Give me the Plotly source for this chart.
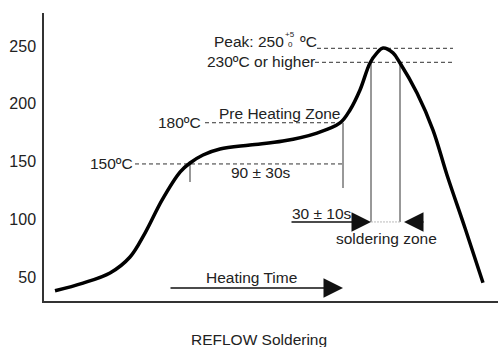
import plotly.graph_objects as go

# Reflow profile (time in arbitrary units, temperature in ºC)
time = [11, 39, 66, 86, 101, 118, 136, 146, 159, 176, 206, 239, 273, 296, 306, 316,
        326, 333, 339, 349, 356, 373, 389, 403, 421, 439]
temp = [38.6, 45.2, 53.9, 67.7, 88.4, 116.9, 141.1, 148.9, 155.8, 161.0, 164.5, 167.9,
        174.8, 183.5, 194.7, 212.0, 235.3, 244.0, 248.3, 244.0, 235.3, 209.4, 177.4,
        138.6, 92.8, 45.5]

tick_vals = [50, 100, 150, 200, 250]
tick_text = ["50", "100", "150", "200", "250"]

# guide levels (as drawn)
lvl_peak, lvl_230, lvl_180, lvl_150 = 248.0, 235.9, 183.7, 148.1
t_150, t_180, t_s1, t_s2 = 146, 299, 327, 356
lvl_zone = 98.0
lvl_heat = 40.9

FONT = "Liberation Sans, Arial, sans-serif"
FS = 15.5
TXT = "#222222"

fig = go.Figure()

dash_style = dict(color="#333333", width=1, dash="4px,3px")
for x0, x1, y in [(273, 409, lvl_peak), (271, 409, lvl_230), (161, t_180, lvl_180), (91, t_180, lvl_150)]:
    fig.add_trace(go.Scatter(x=[x0, x1], y=[y, y], mode="lines", line=dash_style,
                             hoverinfo="skip", showlegend=False))

solid = dict(color="#333333", width=1)
for x, y0, y1 in [(t_150, lvl_150, 132.5), (t_180, lvl_180, 127.3),
                  (t_s1, lvl_230, lvl_zone), (t_s2, lvl_230, lvl_zone)]:
    fig.add_trace(go.Scatter(x=[x, x], y=[y0, y1], mode="lines", line=solid,
                             hoverinfo="skip", showlegend=False))
fig.add_trace(go.Scatter(x=[t_s1, t_s2], y=[lvl_zone, lvl_zone], mode="lines",
                         line=dict(color="#bbbbbb", width=1, dash="2px,1px"),
                         hoverinfo="skip", showlegend=False))

fig.add_trace(go.Scatter(x=time, y=temp, mode="lines",
                         line=dict(color="black", width=3.5, shape="spline", smoothing=1.0),
                         hoverinfo="skip", showlegend=False))

def txt(x, y, s, xanchor="left", size=FS):
    fig.add_annotation(x=x, y=y, xref="x", yref="y", text=s, showarrow=False,
                       xanchor=xanchor, yanchor="middle",
                       font=dict(family=FONT, size=size, color=TXT))

def arrow(x_tail, x_head, y):
    fig.add_annotation(x=x_head, y=y, ax=x_tail, ay=y, xref="x", yref="y",
                       axref="x", ayref="y", text="", showarrow=True,
                       arrowhead=2, arrowsize=2.6, arrowwidth=1.5, arrowcolor="#111111",
                       standoff=0, startstandoff=0)

txt(168, 253.5, "Peak: 250")
txt(246, 259.5, "+5", xanchor="center", size=8)
txt(246, 251.7, "0", xanchor="center", size=8)
txt(254, 253.5, "ºC")
txt(161, 236.2, "230ºC or higher")
txt(159, 184.0, "180ºC", xanchor="right")
txt(173, 191.3, "Pre Heating Zone")
txt(91, 148.6, "150ºC", xanchor="right")
txt(217, 140.3, "90 ± 30s", xanchor="center")
txt(278, 105.7, "30 ± 10s", xanchor="center")
txt(342, 84.1, "soldering zone", xanchor="center")
txt(207, 49.6, "Heating Time", xanchor="center")

arrow(246, t_s1, lvl_zone)
arrow(381, 360, lvl_zone)
arrow(125, t_180, lvl_heat)

fig.add_annotation(x=0.4736, y=-0.135, xref="paper", yref="paper", text="REFLOW Soldering",
                   showarrow=False, xanchor="center", yanchor="middle",
                   font=dict(family=FONT, size=FS, color=TXT))

fig.update_layout(
    width=498, height=347,
    margin=dict(l=44, r=0, t=13, b=46),
    plot_bgcolor="white", paper_bgcolor="white",
    xaxis=dict(range=[0, 454], showgrid=False, zeroline=False, showticklabels=False,
               ticks="", showline=True, linecolor="#333333", linewidth=1.5, fixedrange=True),
    yaxis=dict(range=[29.7, 278.5], showgrid=False, zeroline=False, tickvals=tick_vals,
               ticktext=tick_text, ticks="", showline=True, linecolor="#333333", linewidth=1.5,
               tickfont=dict(family=FONT, size=16, color=TXT), ticklabelstandoff=3,
               fixedrange=True),
)

fig.write_html("out.html", config={"displayModeBar": False},
               post_script="document.body.style.margin='0';")
